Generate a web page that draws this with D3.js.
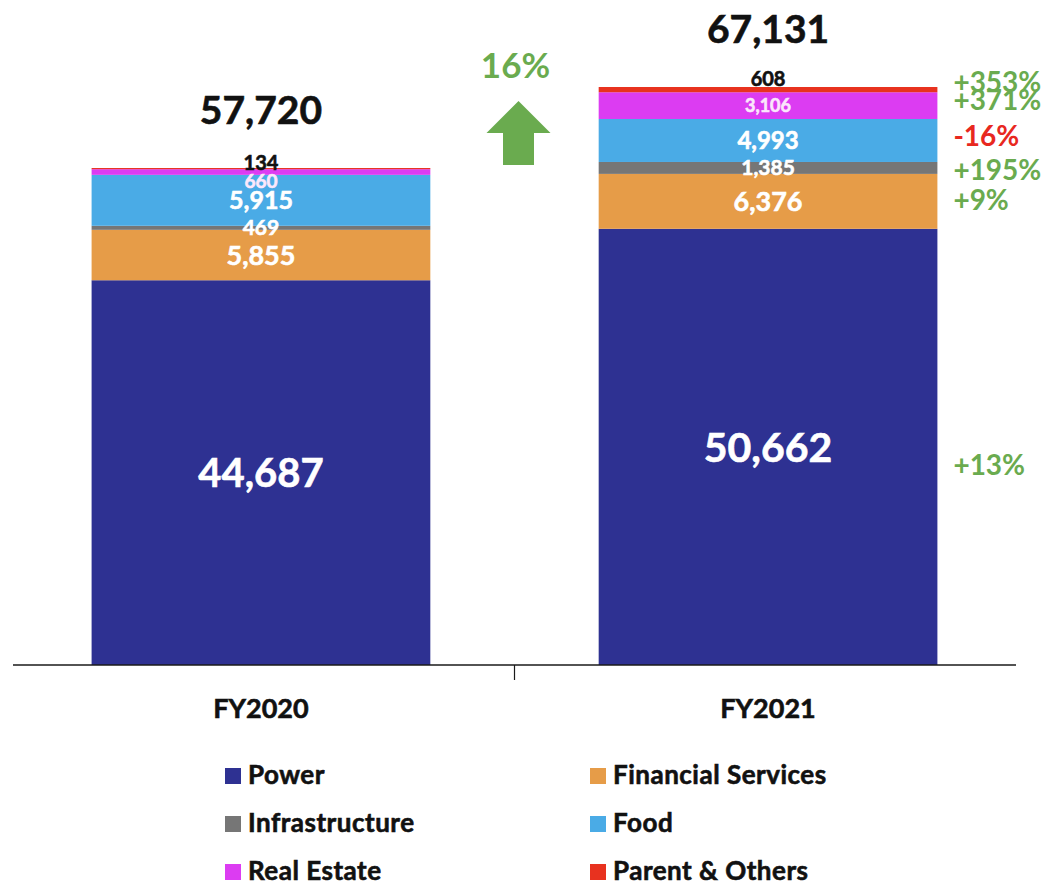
<!DOCTYPE html>
<html>
<head>
<meta charset="utf-8">
<script src="https://cdn.jsdelivr.net/npm/d3@7/dist/d3.min.js"></script>
<style>
  html, body { margin: 0; padding: 0; background: #ffffff; }
  svg { display: block; font-family: Lato, "Open Sans", sans-serif; font-weight: 700; }
  text.heavy { stroke-width: 0.6px; paint-order: stroke; }
</style>
</head>
<body>
<svg id="chart" width="1048" height="885"></svg>
<script>
// Revenue by segment, stacked from the bottom up
const years = ["FY2020", "FY2021"];
const segments = ["Power", "Financial Services", "Infrastructure", "Food", "Real Estate", "Parent & Others"];
const fy2020 = [44687, 5855, 469, 5915, 660, 134];
const fy2021 = [50662, 6376, 1385, 4993, 3106, 608];
const totalLabels = ["57,720", "67,131"];
const yoyChange = ["+13%", "+9%", "+195%", "-16%", "+371%", "+353%"];
const totalGrowth = "16%";

const colors = ["#2e3192", "#e69c48", "#767676", "#4aabe6", "#dc3cf2", "#e8321f"];
const green = "#6aab4f", red = "#e8281f";

const svg = d3.select("#chart");

const rows = years.map((yr, i) => {
  const vals = i === 0 ? fy2020 : fy2021;
  const r = { year: yr };
  segments.forEach((s, j) => { r[s] = vals[j]; });
  return r;
});

const series = d3.stack().keys(segments)(rows);

const x = d3.scaleBand().domain(years).range([13, 1016])
  .paddingInner(0.332).paddingOuter(0.155);
const y = d3.scaleLinear().domain([0, 77235]).range([665, 0]);

// Bars
svg.append("g").selectAll("g").data(series).join("g")
  .attr("fill", (d, i) => colors[i])
  .selectAll("rect").data(d => d).join("rect")
  .attr("x", d => x(d.data.year))
  .attr("width", x.bandwidth())
  .attr("y", d => y(d[1]))
  .attr("height", d => y(d[0]) - y(d[1]));

// Segment labels: size per [year][segment], white inside, black above for the thin top slice
const labelSize = [
  [40, 27, 21, 25, 19, 20],
  [41, 27, 21, 24, 18, 20]
];
const labelShift = [
  [0, 0, 0, 0, 9, 0],
  [0, 0, 0, 0, 0, 0]
];
const fmt = d3.format(",");
const segLabels = svg.append("g").attr("text-anchor", "middle");
series.forEach((s, j) => {
  s.forEach((d, i) => {
    const cx = x(d.data.year) + x.bandwidth() / 2;
    const top = j === segments.length - 1;
    const t = segLabels.append("text")
      .attr("class", "heavy")
      .attr("x", cx)
      .attr("font-size", labelSize[i][j])
      .text(fmt(d.data[segments[j]]));
    let c;
    if (top) {
      c = "#111";
      t.attr("y", y(d[1]) + (i === 0 ? 2 : -1));
    } else {
      c = j === 4 ? "#fbe8fb" : "#ffffff";
      const mid = (y(d[0]) + y(d[1])) / 2 + labelShift[i][j];
      t.attr("y", mid).attr("dy", "0.36em");
    }
    t.attr("fill", c).attr("stroke", c);
  });
});

// Totals above each bar
const last = series[series.length - 1];
svg.append("g").attr("text-anchor", "middle").selectAll("text")
  .data(last).join("text")
  .attr("class", "heavy")
  .attr("x", d => x(d.data.year) + x.bandwidth() / 2)
  .attr("y", d => y(d[1]) - 44)
  .attr("font-size", 39)
  .attr("fill", "#111").attr("stroke", "#111")
  .text((d, i) => totalLabels[i]);

// Year-on-year change per segment, to the right of FY2021
const pctNudge = [18, -1, 2, -5, -6, -8];
const b = series.map(s => s[1]);
svg.append("g").selectAll("text").data(yoyChange).join("text")
  .attr("x", x("FY2021") + x.bandwidth() + 16)
  .attr("y", (d, j) => (y(b[j][0]) + y(b[j][1])) / 2 + pctNudge[j])
  .attr("dy", "0.36em")
  .attr("font-size", 28)
  .attr("fill", d => d.startsWith("-") ? red : green)
  .text(d => d);

// Axis
const axisY = y(0);
const midX = (x("FY2020") + x.bandwidth() + x("FY2021")) / 2;
svg.append("line").attr("x1", 13).attr("x2", 1016).attr("y1", axisY).attr("y2", axisY)
  .attr("stroke", "#1a1a1a").attr("stroke-width", 1.5);
svg.append("line").attr("x1", midX).attr("x2", midX).attr("y1", axisY).attr("y2", axisY + 15)
  .attr("stroke", "#1a1a1a").attr("stroke-width", 1.2);
svg.append("g").attr("text-anchor", "middle").selectAll("text").data(years).join("text")
  .attr("class", "heavy")
  .attr("x", d => x(d) + x.bandwidth() / 2)
  .attr("y", 718)
  .attr("font-size", 27)
  .attr("fill", "#111").attr("stroke", "#111")
  .text(d => d);

// Overall growth with an up arrow between the bars
svg.append("text").attr("x", midX + 1).attr("y", 78).attr("text-anchor", "middle")
  .attr("font-size", 35).attr("fill", green).text(totalGrowth);
const ax = midX + 4;
const arrow = d3.path();
arrow.moveTo(ax, 101);
arrow.lineTo(ax + 32, 133);
arrow.lineTo(ax + 15.5, 133);
arrow.lineTo(ax + 15.5, 165);
arrow.lineTo(ax - 15.5, 165);
arrow.lineTo(ax - 15.5, 133);
arrow.lineTo(ax - 32, 133);
arrow.closePath();
svg.append("path").attr("d", arrow.toString()).attr("fill", green);

// Legend: two columns, three rows
const legendCols = [225, 590];
const legendRows = [784, 832, 880];
const lg = svg.append("g").selectAll("g").data(segments).join("g")
  .attr("transform", (d, i) => `translate(${legendCols[i % 2]},${legendRows[Math.floor(i / 2)]})`);
lg.append("rect").attr("x", 0).attr("y", -16).attr("width", 16).attr("height", 16)
  .attr("fill", (d, i) => colors[i]);
lg.append("text").attr("class", "heavy")
  .attr("x", 23).attr("y", 0).attr("font-size", 26)
  .attr("letter-spacing", 0.5)
  .attr("fill", "#111").attr("stroke", "#111")
  .text(d => d);
</script>
</body>
</html>
